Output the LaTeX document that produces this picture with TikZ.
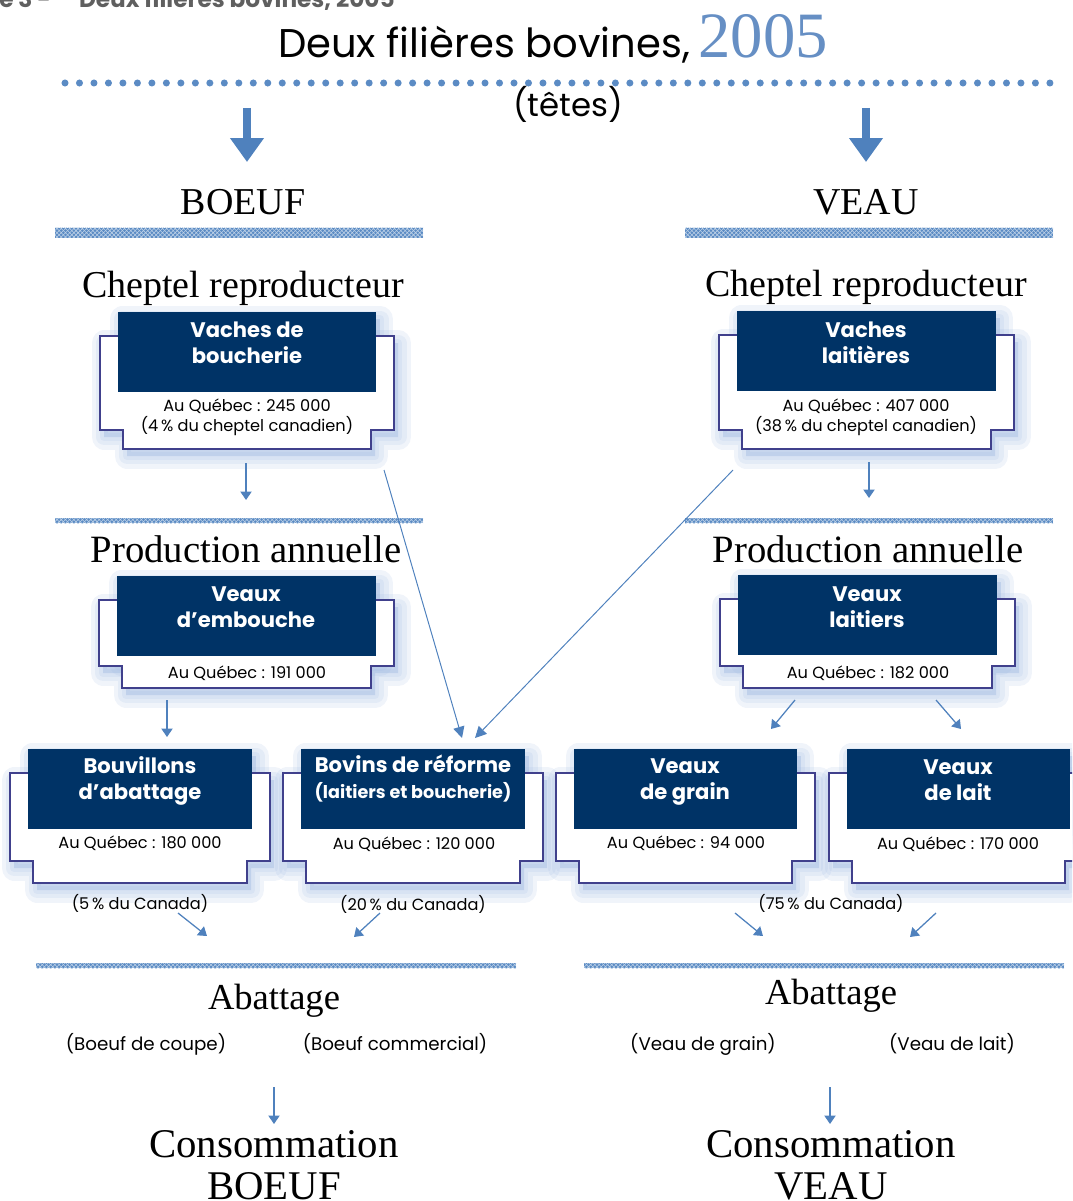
\documentclass[tikz,border=0pt]{standalone}
\usepackage{fontspec}
\setmainfont{Liberation Serif}
\newfontfamily\gothic{Poppins}
\usepackage{tikz}
\usetikzlibrary{arrows.meta,patterns}
\definecolor{nuit}{RGB}{0,51,102}
\definecolor{acier}{RGB}{79,129,189}
\definecolor{bordplaque}{RGB}{64,64,140}
\definecolor{ombre}{RGB}{150,178,222}
\definecolor{millesime}{RGB}{102,143,196}
\definecolor{barrebleu}{RGB}{91,139,196}
\definecolor{grisfig}{RGB}{95,95,95}
% plaque: gauche, droite, haut du cadre sombre, bas large, bas etroit
\def\fiche(#1,#2,#3,#4,#5){%
	\def\contour{(#1-18,#3+24) -- (#2+18,#3+24) -- (#2+18,#4) -- (#2-5,#4) -- (#2-5,#5) -- (#1+5,#5) -- (#1+5,#4) -- (#1-18,#4) -- cycle}%
	\foreach \w in {18,12,6}{\draw[halo, line width=\w pt] \contour; \draw[halo, line width=\w pt] (#1,#3) rectangle (#2,#3+80);}%
	\draw[plaque] \contour;%
	\fill[nuit] (#1,#3) rectangle (#2,#3+80);}
\def\barre(#1,#2,#3,#4){\fill[barrebleu] (#1,#2) rectangle (#3,#4); \fill[pattern=crosshatch, pattern color=white!60!barrebleu] (#1,#2) rectangle (#3,#4);}
\tikzset{
	plaque/.style={draw=bordplaque, line width=0.9pt, fill=white},
	halo/.style={draw=ombre, fill=ombre, line join=round, opacity=.14, xshift=3pt, yshift=-5pt},
	titreboite/.style={text=white, font=\gothic\bfseries\fontsize{15}{18.5}\selectfont, align=center, inner sep=0},
	donnee/.style={font=\gothic\fontsize{11.5}{14.2}\selectfont, align=center, inner sep=0},
	sorte/.style={font=\gothic\fontsize{13}{15}\selectfont, inner sep=0, anchor=base},
	rubrique/.style={font=\fontsize{27.5}{30}\selectfont, inner sep=0, anchor=base},
	grosse/.style={draw=acier, line width=5pt, -{Triangle[width=23pt,length=17pt]}},
	fleche/.style={draw=acier, line width=0.9pt, -{Triangle[width=8pt,length=6pt]}},
	longue/.style={draw=acier, line width=0.7pt, -{Triangle[width=8pt,length=8pt]}}
}

\begin{document}
\begin{tikzpicture}[x=0.025cm, y=-0.025cm]
		%%%%% START %%%%%
		\useasboundingbox (0,0) rectangle (1072,1201);
		\clip (0,0) rectangle (1072,1201);
		
		\node[anchor=base west, inner sep=0, text=grisfig, font=\gothic\bfseries\fontsize{16.5}{18}\selectfont] (entete) at (-1,7.5) {e 3 -\hspace{20pt}Deux filières bovines, 2005};
		\node[anchor=base, inner sep=0] (titre) at (553,58) {{\gothic\fontsize{28.5}{34}\selectfont Deux filières bovines,}\hspace{6pt}{\color{millesime}\fontsize{46}{52}\selectfont 2005}};
		\draw[barrebleu, line width=5pt, line cap=round, dash pattern=on 0pt off 10.3pt] (65,83) -- (1052,83);
		\node[anchor=base, inner sep=0, font=\gothic\fontsize{23}{27}\selectfont] (tetes) at (568,117) {(têtes)};
		
		\node[rubrique, font=\fontsize{27}{30}\selectfont] (boeuf) at (243,215) {BOEUF};
		\node[rubrique, font=\fontsize{27}{30}\selectfont] (veau) at (866,215) {VEAU};
		\barre(55,228,423,238)
		\barre(685,228,1053,238)
		
		\node[rubrique, font=\fontsize{27}{30}\selectfont] (cheptelG) at (243,297) {Cheptel reproducteur};
		\node[rubrique, font=\fontsize{27}{30}\selectfont] (cheptelD) at (866,296) {Cheptel reproducteur};
		
		\fiche(118,376,312,430,449)
		\fiche(737,996,311,430,449)
		\node[titreboite] (vbouch) at (247,343) {Vaches de\\boucherie};
		\node[donnee] (qcvb) at (247,417) {Au Québec : 245 000\\(4\,\% du cheptel canadien)};
		\node[titreboite] (vlait) at (866,343) {Vaches\\laitières};
		\node[donnee] (qcvl) at (866,417) {Au Québec : 407 000\\(38\,\% du cheptel canadien)};
		
		\barre(55,518,423,523)
		\barre(685,518,1053,523)
		\node[rubrique] (prodG) at (246,562) {Production annuelle};
		\node[rubrique] (prodD) at (868,562) {Production annuelle};
		
		\fiche(117,376,576,666,688)
		\fiche(738,997,575,666,688)
		\node[titreboite] (vemb) at (246,607) {Veaux\\d’embouche};
		\node[donnee, anchor=base] (qcve) at (247,678) {Au Québec : 191 000};
		\node[titreboite] (vlaitiers) at (867,607) {Veaux\\laitiers};
		\node[donnee, anchor=base] (qcvt) at (868,678) {Au Québec : 182 000};
		
		\fiche(28,252,749,861,883)
		\fiche(301,525,749,861,883)
		\fiche(574,797,749,861,883)
		\fiche(847,1070,749,861,883)
		\node[titreboite] (bouv) at (140,781) {Bouvillons\\d’abattage};
		\node[donnee, anchor=base] (qcbo) at (140,848) {Au Québec : 180 000};
		\node[titreboite] (reforme) at (413,779) {Bovins de réforme\\{\fontsize{12.5}{15}\selectfont (laitiers et boucherie)}};
		\node[donnee, anchor=base] (qcbr) at (414,849) {Au Québec : 120 000};
		\node[titreboite] (vgrain) at (685,782) {Veaux\\de grain};
		\node[donnee, anchor=base] (qcvg) at (686,848) {Au Québec : 94 000};
		\node[titreboite] (vdelait) at (958,780) {Veaux\\de lait};
		\node[donnee, anchor=base] (qcvd) at (958,849) {Au Québec : 170 000};
		
		\node[donnee, anchor=base] (pc5) at (140,909) {(5\,\% du Canada)};
		\node[donnee, anchor=base] (pc20) at (413,910) {(20\,\% du Canada)};
		\node[donnee, anchor=base] (pc75) at (831,909) {(75\,\% du Canada)};
		
		\barre(36,963,516,968)
		\barre(584,963,1064,968)
		\node[rubrique, font=\fontsize{26}{30}\selectfont] (abatG) at (274,1009) {Abattage};
		\node[rubrique, font=\fontsize{26}{30}\selectfont] (abatD) at (831,1004) {Abattage};
		\node[sorte] (coupe) at (146,1050) {(Boeuf de coupe)};
		\node[sorte] (commercial) at (395,1050) {(Boeuf commercial)};
		\node[sorte] (vgr) at (703,1050) {(Veau de grain)};
		\node[sorte] (vla) at (952,1050) {(Veau de lait)};
		
		\node[rubrique, font=\fontsize{29}{32}\selectfont] (consoG) at (274,1157) {Consommation};
		\node[rubrique, font=\fontsize{29}{32}\selectfont] (consoD) at (831,1157) {Consommation};
		\node[rubrique, font=\fontsize{29}{32}\selectfont] (boeufB) at (274,1199) {BOEUF};
		\node[rubrique, font=\fontsize{29}{32}\selectfont] (veauB) at (831,1199) {VEAU};
		
		\coordinate (gA1) at (247,108); \coordinate (gA2) at (247,162);
		\coordinate (gB1) at (866,108); \coordinate (gB2) at (866,162);
		\draw[grosse] (gA1) -- (gA2);
		\draw[grosse] (gB1) -- (gB2);
		
		\coordinate (f1a) at (246,463); \coordinate (f1b) at (246,500);
		\coordinate (f2a) at (869,462); \coordinate (f2b) at (869,498);
		\coordinate (d1a) at (384,470); \coordinate (d1b) at (462,738);
		\coordinate (d2a) at (733,470); \coordinate (d2b) at (475,738);
		\coordinate (f3a) at (167,700); \coordinate (f3b) at (167,737);
		\coordinate (f4a) at (795,700); \coordinate (f4b) at (771,729);
		\coordinate (f5a) at (936,700); \coordinate (f5b) at (961,729);
		\coordinate (f6a) at (178,913); \coordinate (f6b) at (207,936);
		\coordinate (f7a) at (380,913); \coordinate (f7b) at (354,937);
		\coordinate (f8a) at (735,913); \coordinate (f8b) at (763,936);
		\coordinate (f9a) at (936,913); \coordinate (f9b) at (910,937);
		\coordinate (f10a) at (274,1087); \coordinate (f10b) at (274,1124);
		\coordinate (f11a) at (830,1087); \coordinate (f11b) at (830,1124);
		
		\draw[fleche] (f1a) -- (f1b);
		\draw[fleche] (f2a) -- (f2b);
		\draw[longue] (d1a) -- (d1b);
		\draw[longue] (d2a) -- (d2b);
		\draw[fleche] (f3a) -- (f3b);
		\draw[fleche] (f4a) -- (f4b);
		\draw[fleche] (f5a) -- (f5b);
		\draw[fleche] (f6a) -- (f6b);
		\draw[fleche] (f7a) -- (f7b);
		\draw[fleche] (f8a) -- (f8b);
		\draw[fleche] (f9a) -- (f9b);
		\draw[fleche] (f10a) -- (f10b);
		\draw[fleche] (f11a) -- (f11b);
		
		%%%%% END %%%%%
\end{tikzpicture}
\end{document}
